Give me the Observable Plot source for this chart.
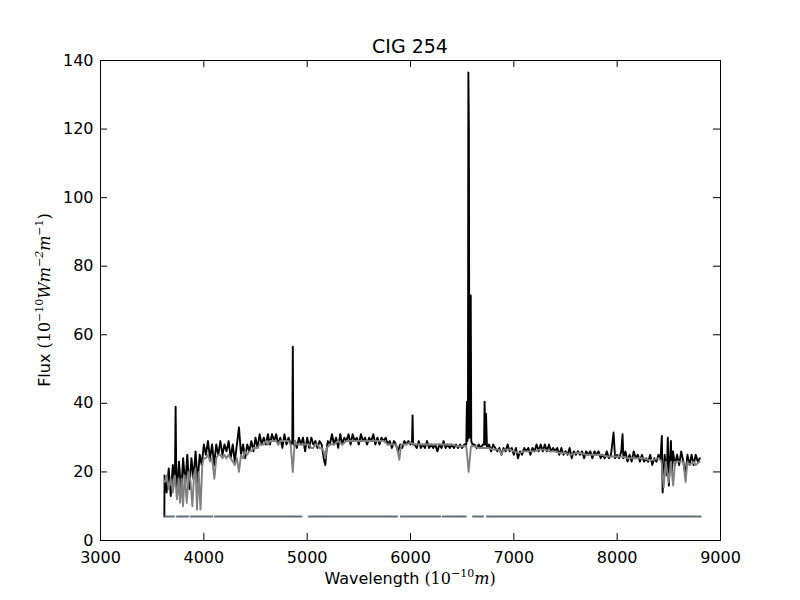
<!DOCTYPE html>
<html><head><meta charset="utf-8">
<script src="https://cdn.jsdelivr.net/npm/d3@7"></script>
<script src="https://cdn.jsdelivr.net/npm/@observablehq/plot@0.6"></script>
<style>body{margin:0;background:#fff}</style>
</head><body><div id="chart"></div>
<script>
const titleText = "CIG 254";
const xTicks = [3000,4000,5000,6000,7000,8000,9000];
const yTicks = [0,20,40,60,80,100,120,140];

// observed spectrum (black)
const obsWave = [3618,
3620,3640,3660,3680,3700,3720,3727,3734,3740,3760,
3780,3800,3820,3840,3860,3880,3900,3920,3940,3960,
3980,4000,4020,4040,4060,4080,4100,4120,4140,4160,
4180,4200,4220,4240,4260,4280,4300,4320,4340,4360,
4380,4400,4420,4440,4460,4480,4500,4520,4540,4560,
4580,4600,4620,4640,4660,4680,4700,4720,4740,4760,
4780,4800,4820,4840,4856,4861,4866,4880,4900,4920,
4940,4960,4980,5000,5020,5040,5060,5080,5100,5120,
5140,5160,5175,5190,5200,5220,5240,5260,5280,5300,
5320,5340,5360,5380,5400,5420,5440,5460,5480,5500,
5520,5540,5560,5580,5600,5620,5640,5660,5680,5700,
5720,5740,5760,5780,5800,5820,5840,5860,5880,5900,
5920,5940,5960,5980,6000,6015,6020,6025,6040,6060,
6080,6100,6120,6140,6160,6180,6200,6220,6240,6260,
6280,6300,6320,6340,6360,6380,6400,6420,6440,6460,
6480,6500,6520,6540,6546,6550,6556,6560,6565,6570,
6578,6583,6588,6600,6620,6640,6660,6680,6700,6712,
6717,6724,6731,6740,6760,6780,6800,6820,6840,6860,
6880,6900,6920,6940,6960,6980,7000,7020,7040,7060,
7080,7100,7120,7140,7160,7180,7200,7220,7240,7260,
7280,7300,7320,7340,7360,7380,7400,7420,7440,7460,
7480,7500,7520,7540,7560,7580,7600,7620,7640,7660,
7680,7700,7720,7740,7760,7780,7800,7820,7840,7860,
7880,7900,7920,7940,7965,7980,8000,8020,8040,8052,
8060,8080,8100,8120,8140,8160,8180,8200,8220,8240,
8260,8280,8300,8320,8340,8360,8380,8400,8420,8432,
8440,8460,8480,8490,8500,8520,8530,8540,8560,8580,
8600,8620,8640,8660,8680,8700,8720,8740,8760,8780,
8800];
const obsFlux = [7,
19,14,21,13,22,17,39,16,15,23,
14,24,16,25,15,24,18,26,17,25,
22,28,25,29,24,28,22,28,25,29,
25,28,26,29,24,28,23,28,33,25,
28,24,28,26,29,26,30,27,31,28,
30,28,31,28,31,29,31,28,30,27,
31,28,30,28,29,56.5,28,29,27,30,
28,30,26,30,27,30,28,29,27,29,
28,24,22,27,29,28,31,28,30,27,
31,28,30,29,31,28,31,29,30,28,
31,29,30,28,30,29,31,28,30,28,
30,29,30,28,29,27,29,28,26,28,
27,29,28,29,28,29,36.5,28,28,27,
29,27,28,27,29,27,28,27,28,26,
28,27,29,27,28,27,28,27,28,27,
28,27,28,28,40.5,29,30,136.5,120,30,
36,71.5,29,28,28,27,28,27,28,28,
40.5,28,37,27,28,26,28,27,26,27,
25,27,26,28,26,27,25,27,24,26,
25,27,26,27,25,27,26,28,26,28,
26,28,26,28,26,27,26,27,25,27,
25,26,25,27,24,26,25,26,25,26,
24,26,25,26,24,26,25,26,24,25,
24,26,24,25,31.5,24,25,24,26,31,
24,26,23,25,23,26,24,25,23,25,
23,24,23,25,22,24,23,25,24,30.5,
14,25,19,30,16,29,20,26,22,25,
22,26,23,19,25,22,25,22,25,23,
24];

// model spectrum (grey)
const modelWave = [
3620,3640,3660,3680,3700,3720,3740,3755,3770,3785,
3798,3815,3835,3855,3872,3889,3905,3920,3934,3950,
3968,3985,4000,4020,4040,4060,4080,4102,4120,4140,
4160,4180,4200,4220,4240,4260,4280,4300,4320,4340,
4360,4380,4400,4420,4440,4460,4480,4500,4520,4540,
4560,4580,4600,4620,4640,4660,4680,4700,4720,4740,
4760,4780,4800,4820,4840,4861,4880,4900,4920,4940,
4960,4980,5000,5020,5040,5060,5080,5100,5120,5140,
5160,5175,5190,5220,5260,5300,5340,5380,5420,5460,
5500,5540,5580,5620,5660,5700,5740,5780,5820,5860,
5876,5892,5910,5950,6000,6050,6100,6150,6200,6250,
6300,6350,6400,6450,6500,6540,6563,6585,6620,6660,
6700,6750,6800,6860,6880,6900,6960,7000,7050,7100,
7150,7200,7250,7300,7350,7400,7450,7500,7550,7600,
7650,7700,7750,7800,7850,7900,7950,8000,8050,8100,
8150,8200,8250,8300,8350,8400,8430,8450,8470,8498,
8520,8542,8560,8600,8640,8662,8680,8700,8740,8760,
8800];
const modelFlux = [
17,19,15,18,14,19,12,18,11,18,
10,19,11,20,17,10,19,21,9,20,
9,22,24,24,25,23,24,18,24,25,
25,24,25,24,25,24,23,22,24,20,
25,24,26,25,26,26,27,27,27,28,
28,28,29,28,29,29,29,29,28,29,
29,29,29,29,28,20,29,28,28,28,
28,28,28,28,27,27,28,28,27,27,
26,24,27,28,28,29,28,29,29,29,
29,29,29,29,29,29,29,28,28,28,
26,23.5,28,28,28.5,28,28,28,28,28,
28,28,28,27.5,27.5,27.5,20,27.5,27.5,27,
27,27,26.5,26.5,25,26.5,26.5,26,25.5,26,
26,26,26.5,26.5,26,26,25.5,25.5,25,25.5,
25.5,25,25,25,25,24.5,24.5,24.5,24.5,24,
24,24,24,23.5,23.5,24,23,15.5,23,17,
23,16,23,23,23,17,23,22,23,22,
23];

// masked-region segments
const maskLevel = 7;
const maskStart = [3617,3740,3871,4107,5015,5905,6310,6605,6739];
const maskEnd   = [3712,3847,4082,4944,5869,6288,6535,6703,8808];

const obs = obsWave.map((w, i) => ({w, f: obsFlux[i]}));
const model = modelWave.map((w, i) => ({w, f: modelFlux[i]}));
const mask = maskStart.flatMap((s, i) => [{w: s, f: maskLevel, seg: i}, {w: maskEnd[i], f: maskLevel, seg: i}]);

const innerH = 480, innerW = 620, tk = 7;
const plot = Plot.plot({
  width: 800, height: 600,
  marginLeft: 100, marginRight: 80, marginTop: 60, marginBottom: 60,
  style: {fontFamily: "DejaVu Sans", fontSize: "16px", color: "black", background: "white"},
  x: {domain: [3000, 9000]},
  y: {domain: [0, 140]},
  marks: [
    Plot.line(obs, {x: "w", y: "f", stroke: "black", strokeWidth: 1.9}),
    Plot.line(model, {x: "w", y: "f", stroke: "#808080", strokeWidth: 1.9}),
    Plot.line(mask, {x: "w", y: "f", z: "seg", stroke: "#607078", strokeWidth: 2}),
    Plot.tickX(xTicks, {x: d => d, insetTop: innerH - tk, stroke: "black"}),
    Plot.tickX(xTicks, {x: d => d, insetBottom: innerH - tk, stroke: "black"}),
    Plot.tickY(yTicks, {y: d => d, insetRight: innerW - tk, stroke: "black"}),
    Plot.tickY(yTicks, {y: d => d, insetLeft: innerW - tk, stroke: "black"}),
    Plot.axisX({ticks: xTicks, tickSize: 0, tickPadding: 11, tickFormat: "d", label: null, fontSize: 16}),
    Plot.axisY({ticks: yTicks, tickSize: 0, tickPadding: 7, tickFormat: "d", label: null, fontSize: 16}),
    Plot.frame({stroke: "black", strokeWidth: 1})
  ]
});
document.getElementById("chart").appendChild(plot);

const svg = d3.select(plot);
svg.append("text").attr("x", 410).attr("y", 53).attr("text-anchor", "middle")
  .style("font-family", "DejaVu Sans").style("font-size", "19px").attr("fill", "black").text(titleText);

const serif = "DejaVu Serif";
const xl = svg.append("text").attr("x", 410).attr("y", 584).attr("text-anchor", "middle")
  .style("font-family", "DejaVu Sans").style("font-size", "16px").attr("fill", "black");
xl.append("tspan").text("Wavelength ");
xl.append("tspan").style("font-family", serif).text("(10");
xl.append("tspan").style("font-family", serif).style("font-size", "11px").attr("dy", -7).text("\u221210");
xl.append("tspan").style("font-family", serif).style("font-style", "italic").attr("dy", 7).text("m");
xl.append("tspan").style("font-family", serif).text(")");

const yl = svg.append("text").attr("transform", "translate(50,300) rotate(-90)").attr("text-anchor", "middle")
  .style("font-family", "DejaVu Sans").style("font-size", "16px").attr("fill", "black");
yl.append("tspan").text("Flux ");
yl.append("tspan").style("font-family", serif).text("(10");
yl.append("tspan").style("font-family", serif).style("font-size", "11px").attr("dy", -7).text("\u221210");
yl.append("tspan").style("font-family", serif).style("font-style", "italic").attr("dy", 7).text("Wm");
yl.append("tspan").style("font-family", serif).style("font-style", "italic").style("font-size", "11px").attr("dy", -7).text("\u22122");
yl.append("tspan").style("font-family", serif).style("font-style", "italic").attr("dy", 7).text("m");
yl.append("tspan").style("font-family", serif).style("font-size", "11px").attr("dy", -7).text("\u22121");
yl.append("tspan").style("font-family", serif).attr("dy", 7).text(")");
</script>
</body></html>
